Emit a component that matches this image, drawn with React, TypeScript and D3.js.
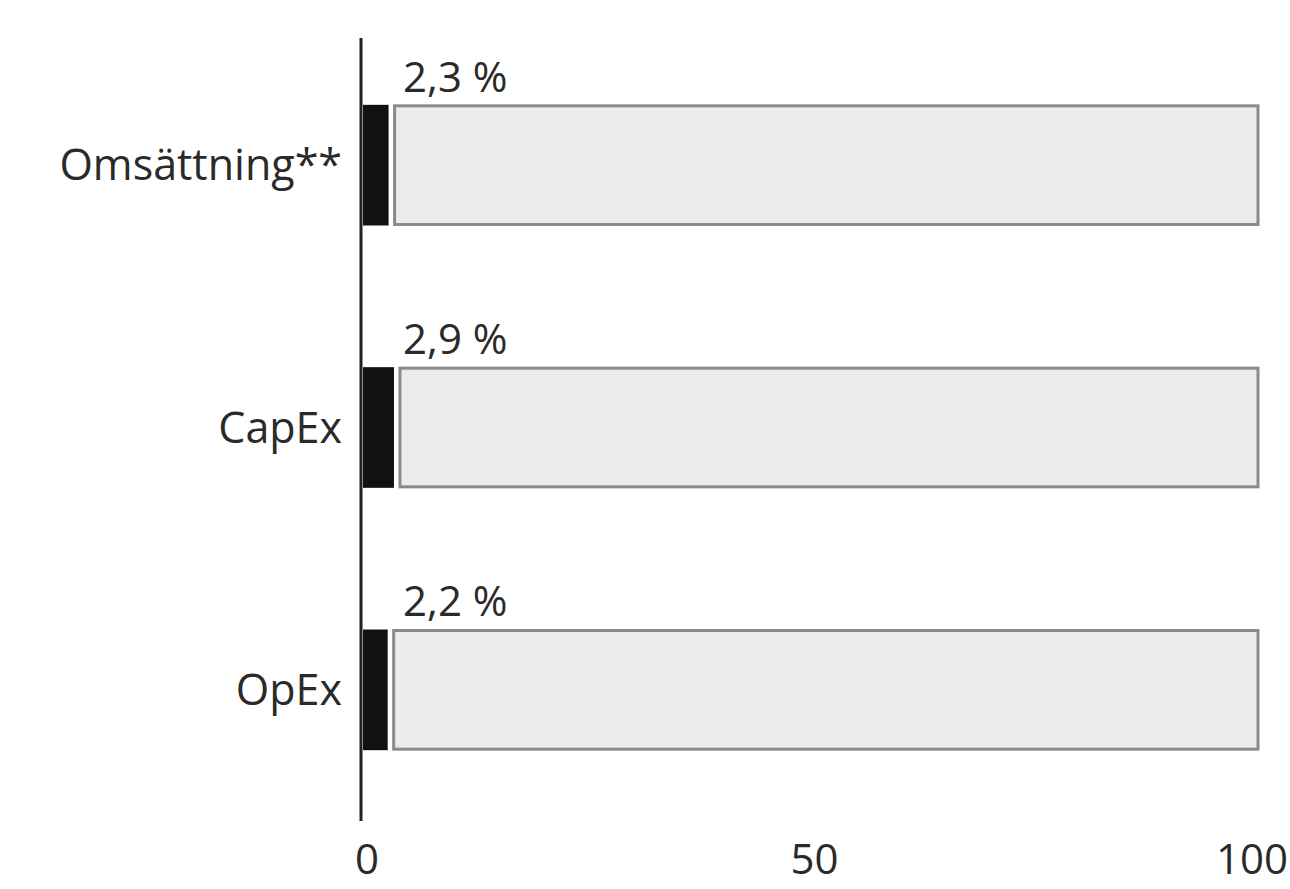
import React from "react";
import * as d3 from "d3";

const categories = ["Omsättning**", "CapEx", "OpEx"];
const values = [2.3, 2.9, 2.2];
const valueLabels = ["2,3 %", "2,9 %", "2,2 %"];
const xTicks = [0, 50, 100];

const W = 1290;
const H = 889;

export default function App() {
  const x = d3.scaleLinear().domain([0, 100]).range([363, 1258]);
  const y = d3.scaleBand<string>().domain(categories).range([34, 821]).paddingInner(0.54).paddingOuter(0.27);
  const font = "'Open Sans', 'DejaVu Sans', sans-serif";
  return (
    <svg width={W} height={H} style={{ position: "absolute", left: 0, top: 0, background: "#fff" }}>
      {categories.map((c, i) => {
        const y0 = y(c)!;
        const bw = y.bandwidth();
        return (
          <g key={c}>
            <rect x={x(values[i]) + 11} y={y0 + 1} width={x(100) - x(values[i]) - 11} height={bw - 2}
              fill="#ececec" stroke="#8a8a8a" strokeWidth={3} />
            <rect x={x(0)} y={y0} width={x(values[i]) - x(0) + 5} height={bw} fill="#111" />
            <text x={x(0) + 40} y={y0 - 13} fontFamily={font} fontSize={42} fill="#2a2a2a">{valueLabels[i]}</text>
            <text x={342} y={y0 + bw / 2} dy="0.35em" textAnchor="end" fontFamily={font} fontSize={43} fill="#2a2a2a">{c}</text>
          </g>
        );
      })}
      <line x1={361} x2={361} y1={38} y2={821} stroke="#222" strokeWidth={3} />
      {xTicks.map((t) => (
        <text key={t} x={Math.min(x(t) + 4, W - 38)} y={874} textAnchor="middle" fontFamily={font} fontSize={42} fill="#2a2a2a">{t}</text>
      ))}
    </svg>
  );
}
